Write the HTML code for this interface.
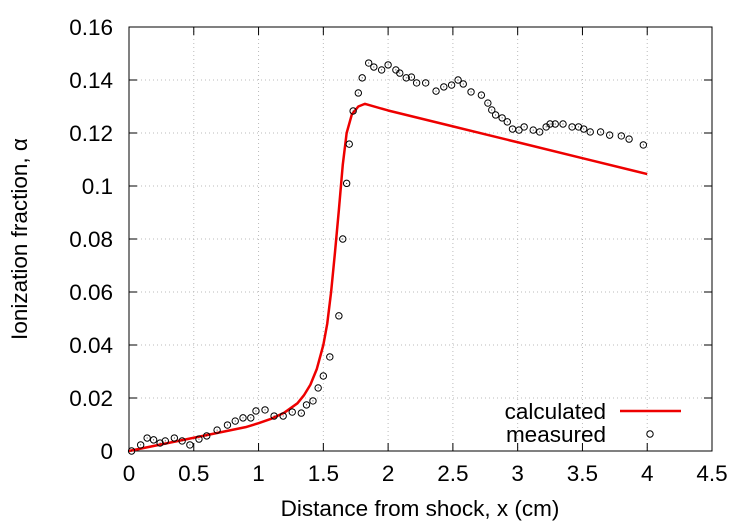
<!DOCTYPE html>
<html><head><meta charset="utf-8"><style>
body{margin:0;background:#fff}
svg{display:block;font-family:"Liberation Sans",sans-serif}
</style></head><body>
<svg id="c" width="750" height="525"></svg>
<script>
const xTicks=[0,0.5,1,1.5,2,2.5,3,3.5,4,4.5];
const xTickLabels=["0","0.5","1","1.5","2","2.5","3","3.5","4","4.5"];
const yTicks=[0,0.02,0.04,0.06,0.08,0.1,0.12,0.14,0.16];
const yTickLabels=["0","0.02","0.04","0.06","0.08","0.1","0.12","0.14","0.16"];
const calcX=[0,0.25,0.5,0.75,0.9,1.0,1.1,1.2,1.3,1.35,1.4,1.45,1.5,1.53,1.56,1.59,1.62,1.65,1.68,1.72,1.77,1.82,2,2.5,3,3.5,4];
const calcY=[0,0.0025,0.005,0.0075,0.009,0.0105,0.0122,0.0145,0.018,0.021,0.025,0.031,0.04,0.048,0.06,0.075,0.091,0.108,0.12,0.127,0.13,0.131,0.1285,0.1225,0.1165,0.1105,0.1045];
const measX=[0.02,0.09,0.14,0.19,0.24,0.28,0.35,0.41,0.47,0.54,0.60,0.68,0.76,0.82,0.88,0.94,0.98,1.05,1.12,1.19,1.26,1.33,1.37,1.42,1.46,1.50,1.55,1.62,1.65,1.68,1.70,1.73,1.77,1.80,1.85,1.89,1.95,2.00,2.06,2.09,2.14,2.18,2.22,2.29,2.37,2.43,2.49,2.54,2.58,2.64,2.72,2.77,2.80,2.83,2.88,2.92,2.96,3.01,3.05,3.12,3.17,3.22,3.25,3.29,3.35,3.42,3.47,3.51,3.56,3.64,3.71,3.80,3.86,3.97];
const measY=[0,0.0023,0.0049,0.0042,0.0030,0.0038,0.0049,0.0038,0.0023,0.0045,0.0057,0.0079,0.0098,0.0113,0.0125,0.0125,0.0151,0.0155,0.0132,0.0132,0.0147,0.0143,0.0174,0.0189,0.0238,0.0283,0.0355,0.051,0.080,0.101,0.1158,0.1283,0.1351,0.1408,0.1464,0.1449,0.1438,0.1457,0.1438,0.1426,0.1408,0.1411,0.1389,0.1389,0.1358,0.1374,0.1381,0.1400,0.1385,0.1355,0.1343,0.1313,0.1287,0.1268,0.1257,0.1242,0.1215,0.1211,0.1223,0.1211,0.1204,0.1223,0.1234,0.1234,0.1234,0.1223,0.1223,0.1215,0.1204,0.1204,0.1192,0.1189,0.1177,0.1155];
const L=129,R=712,T=27,B=451,FS=22.5;
const sx=v=>L+v/4.5*(R-L), sy=v=>B-v/0.16*(B-T);
const s=document.getElementById('c');const NS="http://www.w3.org/2000/svg";
function mk(t,a,p){const e=document.createElementNS(NS,t);for(const k in a)e.setAttribute(k,a[k]);(p||s).appendChild(e);return e;}
xTicks.forEach((v,i)=>{const x=sx(v);
 if(i>0&&i<xTicks.length-1){const g=mk('line',{x1:x,x2:x,y1:T,y2:B,stroke:'#bbb','stroke-dasharray':'1,3'});
 
 }
 mk('line',{x1:x,x2:x,y1:B,y2:B-8,stroke:'#000'});mk('line',{x1:x,x2:x,y1:T,y2:T+8,stroke:'#000'});
 const t=mk('text',{x:x,y:481,'text-anchor':'middle','font-size':FS});t.textContent=xTickLabels[i];
 
 });
yTicks.forEach((v,i)=>{const y=sy(v);
 if(i>0&&i<yTicks.length-1){const g=mk('line',{x1:L,x2:R,y1:y,y2:y,stroke:'#bbb','stroke-dasharray':'1,3'});
 
 }
 mk('line',{x1:L,x2:L+8,y1:y,y2:y,stroke:'#000'});mk('line',{x1:R,x2:R-8,y1:y,y2:y,stroke:'#000'});
 const t=mk('text',{x:113,y:y+8,'text-anchor':'end','font-size':FS});t.textContent=yTickLabels[i];
 
 });
const fr=mk('rect',{x:L,y:T,width:R-L,height:B-T,fill:'none',stroke:'#000'});


const p=mk('polyline',{points:calcX.map((v,i)=>sx(v)+','+sy(calcY[i])).join(' '),fill:'none',stroke:'#e00','stroke-width':2.5,'stroke-linejoin':'round'});


measX.forEach((v,i)=>{const c=mk('circle',{cx:sx(v),cy:sy(measY[i]),r:3.2,fill:'none',stroke:'#000','stroke-width':1});
 
 
 mk('circle',{cx:sx(v),cy:sy(measY[i]),r:0.5,fill:'#000'});});
const l1=mk('text',{x:606,y:419,'text-anchor':'end','font-size':FS});l1.textContent='calculated';


mk('line',{x1:620,x2:681,y1:411,y2:411,stroke:'#e00','stroke-width':2.5});
const l2=mk('text',{x:606,y:442,'text-anchor':'end','font-size':FS});l2.textContent='measured';


mk('circle',{cx:650,cy:434,r:3.2,fill:'none',stroke:'#000'});
const xt=mk('text',{x:420,y:516,'text-anchor':'middle','font-size':FS});xt.textContent='Distance from shock, x (cm)';


const yt=mk('text',{x:0,y:0,'text-anchor':'middle','font-size':FS,transform:'translate(27,239) rotate(-90)'});yt.textContent='Ionization fraction, α';


</script>
</body></html>
